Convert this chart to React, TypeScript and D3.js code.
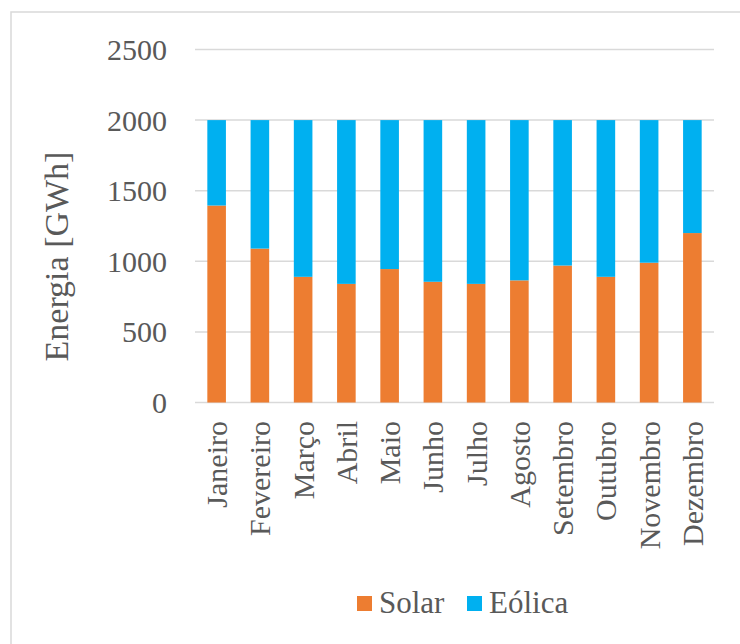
import React from "react";
import * as d3 from "d3";

// Monthly energy (GWh) split between solar and wind generation
const months = [
  "Janeiro", "Fevereiro", "Março", "Abril", "Maio", "Junho",
  "Julho", "Agosto", "Setembro", "Outubro", "Novembro", "Dezembro",
];
const solar = [1395, 1090, 890, 840, 945, 855, 840, 865, 970, 890, 990, 1200];
const eolica = [605, 910, 1110, 1160, 1055, 1145, 1160, 1135, 1030, 1110, 1010, 800];
const yTicks = [0, 500, 1000, 1500, 2000, 2500];
const seriesNames = ["Solar", "Eólica"];

const W = 740;
const H = 644;
const plot = { left: 195, right: 714, top: 49.5, bottom: 402.5 };
const colors = ["#ED7D31", "#00B0F0"];
const textColor = "#595959";
const gridColor = "#D9D9D9";
const font = "'Liberation Serif', 'Times New Roman', serif";

export default function App() {
  const x = d3
    .scaleBand<string>()
    .domain(months)
    .range([plot.left, plot.right])
    .paddingInner(0.57)
    .paddingOuter(0.285);
  const y = d3.scaleLinear().domain([0, 2500]).range([plot.bottom, plot.top]);

  const rows = months.map((m, i) => ({ month: m, solar: solar[i], eolica: eolica[i] }));
  const stacked = d3.stack<any>().keys(["solar", "eolica"])(rows);

  return (
    <svg
      width={W}
      height={H}
      style={{ position: "absolute", left: 0, top: 0, background: "#fff", display: "block" }}
      fontFamily={font}
    >
      <rect x={0} y={0} width={W} height={H} fill="#fff" />
      {/* chart frame */}
      <rect x={11} y={12} width={W + 20} height={H + 20} fill="none" stroke={gridColor} strokeWidth={1.5} />

      {/* gridlines */}
      {yTicks.map((t) => (
        <line
          key={t}
          x1={plot.left}
          x2={plot.right}
          y1={y(t)}
          y2={y(t)}
          stroke={gridColor}
          strokeWidth={1.5}
        />
      ))}

      {/* y tick labels */}
      {yTicks.map((t) => (
        <text
          key={"l" + t}
          x={167}
          y={y(t)}
          dy="0.35em"
          textAnchor="end"
          fontSize={30}
          fill={textColor}
        >
          {t}
        </text>
      ))}

      {/* y axis title */}
      <text
        transform={`translate(68, ${(150 + 363) / 2}) rotate(-90)`}
        textAnchor="middle"
        fontSize={34}
        fill={textColor}
      >
        Energia [GWh]
      </text>

      {/* stacked bars */}
      {stacked.map((layer, si) => (
        <g key={layer.key} fill={colors[si]}>
          {layer.map((d, i) => (
            <rect
              key={months[i]}
              x={x(months[i])}
              y={y(d[1])}
              width={x.bandwidth()}
              height={y(d[0]) - y(d[1])}
            />
          ))}
        </g>
      ))}

      {/* x category labels */}
      {months.map((m) => (
        <text
          key={"x" + m}
          transform={`translate(${(x(m) as number) + x.bandwidth() / 2}, 421) rotate(-90)`}
          textAnchor="end"
          dy="0.35em"
          fontSize={30}
          fill={textColor}
        >
          {m}
        </text>
      ))}

      {/* legend */}
      {seriesNames.map((name, i) => {
        const lx = [357, 467][i];
        return (
          <g key={name}>
            <rect x={lx} y={596} width={15} height={15} fill={colors[i]} />
            <text x={lx + 22} y={613} fontSize={31} fill={textColor}>
              {name}
            </text>
          </g>
        );
      })}
    </svg>
  );
}
